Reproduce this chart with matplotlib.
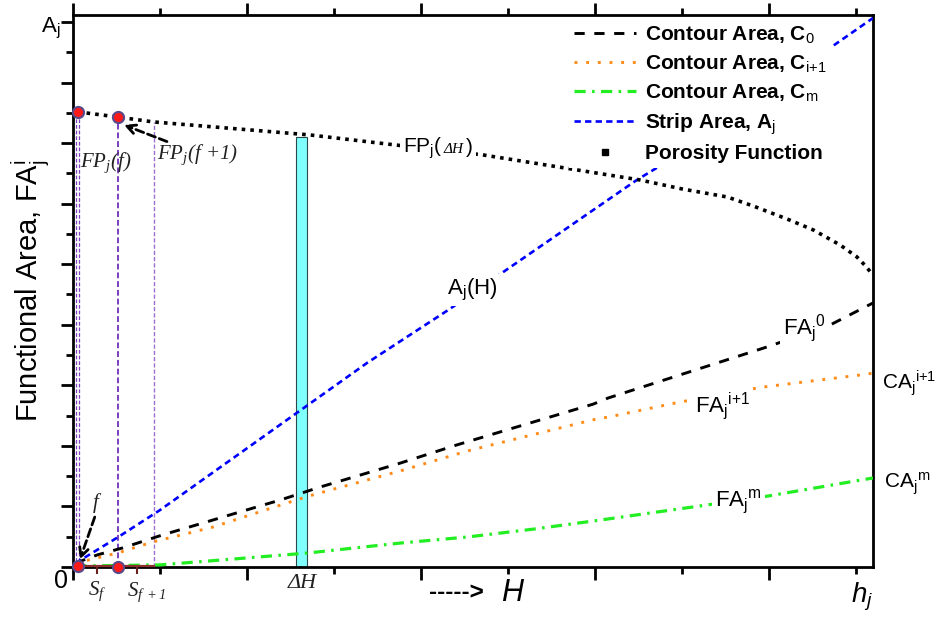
import matplotlib
matplotlib.use('Agg')
import matplotlib.pyplot as plt
from matplotlib.lines import Line2D
from matplotlib import markers

plt.rcParams['font.family'] = ['Liberation Sans', 'DejaVu Sans']
plt.rcParams['mathtext.fontset'] = 'custom'
plt.rcParams['mathtext.rm'] = 'Liberation Sans'
plt.rcParams['mathtext.it'] = 'Liberation Sans:italic'
plt.rcParams['mathtext.bf'] = 'Liberation Sans:bold'
plt.rcParams['mathtext.default'] = 'regular'

# strip area A_j(H)
strip_h = [0.03, 0.52, 1.0, 2.70, 3.38, 4.33, 5.06, 6.48, 6.80, 9.195]
strip_a = [0.13, 0.99, 1.88, 5.35, 6.74, 8.52, 9.97, 12.78, 13.34, 18.13]

# contour area C0
c0_h = [0.03, 0.28, 0.57, 1.03, 1.49, 1.92, 2.38, 2.84, 3.76, 4.41, 5.06, 5.98, 6.15, 7.98, 8.70, 9.195]
c0_a = [0.13, 0.40, 0.63, 1.06, 1.45, 1.82, 2.21, 2.64, 3.43, 4.03, 4.59, 5.38, 5.58, 7.27, 7.99, 8.72]

# contour area C_i+1
ci_h = [0.03, 0.51, 0.92, 1.61, 2.53, 2.79, 3.76, 4.53, 5.37, 6.02, 6.15, 6.98, 7.92, 9.13, 9.195]
ci_a = [0.13, 0.46, 0.83, 1.32, 2.18, 2.41, 3.17, 3.83, 4.43, 4.89, 4.95, 5.45, 5.94, 6.37, 6.41]

# contour area C_m
cm_h = [0.03, 1.0, 2.0, 2.69, 3.76, 4.53, 5.29, 6.06, 7.29, 7.98, 9.195]
cm_a = [0.03, 0.07, 0.30, 0.46, 0.79, 0.99, 1.25, 1.55, 2.05, 2.34, 2.94]

# porosity function FP_j
fp_h = [0.057, 0.517, 0.92, 2.72, 3.61, 4.71, 6.52, 7.01, 7.52, 7.82, 8.21, 8.51, 8.82, 9.01, 9.11, 9.195]
fp_v = [15.03, 14.86, 14.70, 14.27, 13.97, 13.61, 12.78, 12.48, 12.22, 11.92, 11.49, 11.13, 10.63, 10.24, 9.94, 9.64]

# sample points f, f+1
f_pts = [0.057, 0.517]
f_vals = [15.03, 14.86]
f_base = [0.03, 0.0]
s_marks = [0.28, 0.74]

# strip at delta H
dh_pos = 2.625
dh_width = 0.13
dh_height = 14.2

purple = '#7B3FBF'

fig = plt.figure(figsize=(9.4, 6.19), dpi=100)
ax = fig.add_axes([73 / 940, 52 / 619, 800 / 940, 552 / 619])

ax.bar([dh_pos], [dh_height], width=dh_width, color='#80FFFF', edgecolor='#2a4a4a', linewidth=0.8, zorder=2)

ax.plot(strip_h, strip_a, color='#0000FF', lw=1.9, ls=(0, (2.4, 1.6)), label='Strip Area, A$_\\mathrm{j}$', zorder=3)
ax.plot(c0_h, c0_a, color='black', lw=2.1, ls=(0, (3.5, 3.3)), label='Contour Area, C$_\\mathrm{0}$', zorder=3)
ax.plot(ci_h, ci_a, color='#FF8C1A', lw=2.1, ls=(0, (1, 3.0)), label='Contour Area, C$_\\mathrm{i{+}1}$', zorder=3)
ax.plot(cm_h, cm_a, color='#22EE22', lw=2.3, ls=(0, (3.5, 2, 0.8, 2)), label='Contour Area, C$_\\mathrm{m}$', zorder=3)
ax.plot(fp_h, fp_v, color='black', lw=2.6, ls=(0, (1, 1.4)), zorder=3)

# vertical guides
ax.vlines([f_pts[0] - 0.022, f_pts[0] + 0.008], 0, f_vals[0], colors=purple, lw=0.9, linestyles=(0, (3, 1.5)), zorder=2)
ax.vlines([f_pts[1]], 0, f_vals[1], colors=purple, lw=1.4, linestyles=(0, (3, 1.5)), zorder=2)
ax.vlines([0.93], 0, 14.7, colors='#9B6FD0', lw=1.0, linestyles=(0, (3, 1.5)), zorder=2)

ax.plot([f_pts[0], 0.93], [0.02, 0.02], color='#8B2E2E', lw=1.6, zorder=4, clip_on=False)
ax.plot(s_marks, [0, 0], ls='none', marker=markers.TICKDOWN, ms=5, mew=1.5, color='#6B2020', clip_on=False, zorder=4)

ax.plot(f_pts, f_vals, ls='none', marker='o', ms=8, mfc='#FF1A1A', mec='#5A4A8A', mew=1.5, zorder=6, clip_on=False)
ax.plot(f_pts, f_base, ls='none', marker='o', ms=8, mfc='#FF1A1A', mec='#5A4A8A', mew=1.5, zorder=6, clip_on=False)

# arrows
ax.annotate('', xy=(0.585, 14.6), xytext=(1.08, 14.05),
            arrowprops=dict(arrowstyle='->', color='black', lw=2, ls=(0, (3, 1.5)),
                            mutation_scale=16, shrinkA=0, shrinkB=0), zorder=5)
ax.annotate('', xy=(0.08, 0.25), xytext=(0.25, 1.65),
            arrowprops=dict(arrowstyle='->', color='black', lw=2, ls=(0, (3, 1.5)),
                            mutation_scale=16, shrinkA=0, shrinkB=0), zorder=5)

ax.set_xlim(0, 9.195)
ax.set_ylim(0, 18.23)
ax.set_xticks(range(0, 10, 2))
ax.set_xticks(range(1, 10, 2), minor=True)
ax.set_yticks(range(0, 19, 2))
ax.set_yticks(range(1, 19, 2), minor=True)
ax.tick_params(which='both', direction='out', width=2, color='black',
               bottom=True, top=True, left=True, right=False,
               labelbottom=False, labelleft=False)
ax.tick_params(which='major', length=9)
ax.tick_params(which='minor', length=5)
for s in ax.spines.values():
    s.set_linewidth(2)

ax.set_ylabel('Functional Area, FA$_\\mathrm{j}^\\mathrm{i}$', fontsize=21, labelpad=6)

serif = dict(family='Liberation Serif', style='italic', fontsize=15, color='#222222')
ax.text(0.08, 13.35, 'FP$_j$(f)', ha='left', va='center', **serif)
ax.text(0.97, 13.6, 'FP$_j$(f +1)', ha='left', va='center', **serif)
ax.text(0.26, 2.1, 'f', ha='center', va='center', **serif)
ax.text(0.28, -0.8, 'S$_f$', ha='center', va='center', clip_on=False, **serif)
ax.text(0.85, -0.85, 'S$_{f\\,+1}$', ha='center', va='center', clip_on=False, **serif)
ax.text(2.63, -0.55, 'ΔH', ha='center', va='center', clip_on=False,
        family='Liberation Serif', style='italic', fontsize=16, color='#222222')

blank = dict(facecolor='white', edgecolor='none', pad=2)
t1 = ax.text(3.79, 13.84, 'FP$_j$(', ha='left', va='center', fontsize=15, bbox=blank, zorder=5)
t2 = ax.annotate('ΔH', xy=(1, 0.5), xycoords=t1, xytext=(1, -1), textcoords='offset points',
                 ha='left', va='center', family='Liberation Serif', style='italic', fontsize=11,
                 bbox=blank, zorder=5)
ax.annotate(')', xy=(1, 0.5), xycoords=t2, xytext=(2, 1), textcoords='offset points',
            ha='left', va='center', fontsize=15, bbox=blank, zorder=5)
ax.text(4.30, 9.15, 'A$_j$(H)', ha='left', va='center', fontsize=16, bbox=blank, zorder=5)
ax.text(8.16, 7.9, 'FA$_j$$^0$', ha='left', va='center', fontsize=16, bbox=blank, zorder=5)
ax.text(7.15, 5.32, 'FA$_j$$^{i{+}1}$', ha='left', va='center', fontsize=16, bbox=blank, zorder=5)
ax.text(7.38, 2.15, 'FA$_j$$^m$', ha='left', va='center', fontsize=16, bbox=blank, zorder=5)
ax.text(9.30, 6.08, 'CA$_j$$^{i{+}1}$', ha='left', va='center', fontsize=15, clip_on=False)
ax.text(9.32, 2.74, 'CA$_j$$^m$', ha='left', va='center', fontsize=15, clip_on=False)

ax.text(-0.14, -0.46, '0', ha='center', va='center', fontsize=18, clip_on=False)
ax.text(-0.26, 17.8, 'A$_j$', ha='center', va='center', fontsize=16, clip_on=False)
ax.text(4.41, -0.86, '----->', ha='center', va='center', fontsize=17.5, fontweight='bold', clip_on=False)
ax.text(5.05, -0.86, 'H', ha='center', va='center', fontsize=22, fontstyle='italic', clip_on=False)
ax.text(9.07, -1.0, 'h$_j$', ha='center', va='center', fontsize=20, fontstyle='italic', clip_on=False)

handles, labels = ax.get_legend_handles_labels()
order = [1, 2, 3, 0]
handles = [handles[i] for i in order]
labels = [labels[i] for i in order]
handles.append(Line2D([], [], ls='none', marker='s', ms=4, color='black'))
labels.append('Porosity Function')
leg = ax.legend(handles, labels, loc='upper right', bbox_to_anchor=(0.948, 0.992),
                borderaxespad=0, borderpad=0.25, handlelength=3.0, handletextpad=0.4,
                labelspacing=0.36, frameon=True, fancybox=False, framealpha=1,
                edgecolor='none', facecolor='white',
                prop=dict(family='Liberation Sans', weight='bold', size=15))
leg.set_zorder(7)

fig.savefig('out.png', dpi=100)
